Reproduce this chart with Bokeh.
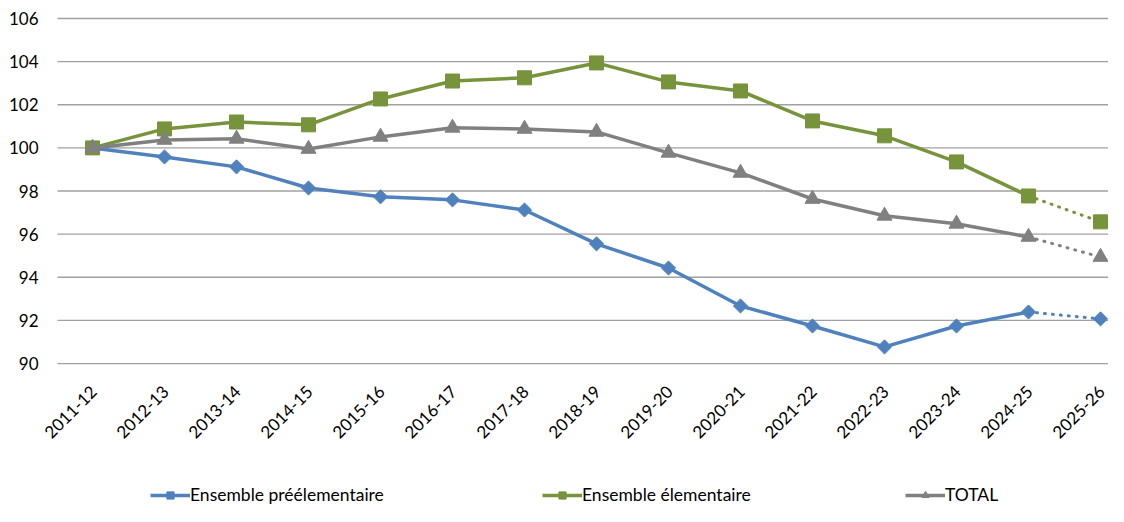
import math
from bokeh.plotting import figure
from bokeh.models import Legend, LegendItem, Range1d, LabelSet, ColumnDataSource
from bokeh.core.properties import value
from bokeh.embed import file_html
from bokeh.resources import INLINE

years = ["2011-12", "2012-13", "2013-14", "2014-15", "2015-16", "2016-17", "2017-18",
         "2018-19", "2019-20", "2020-21", "2021-22", "2022-23", "2023-24", "2024-25", "2025-26"]
preelem = [100.0, 99.58, 99.12, 98.14, 97.73, 97.59, 97.12, 95.55, 94.43, 92.67,
           91.74, 90.77, 91.74, 92.39, 92.07]
elem = [100.0, 100.88, 101.2, 101.07, 102.27, 103.1, 103.25, 103.94, 103.06, 102.64,
        101.25, 100.56, 99.35, 97.77, 96.57]
total = [100.0, 100.37, 100.42, 99.95, 100.51, 100.93, 100.88, 100.74, 99.77, 98.84,
         97.63, 96.85, 96.48, 95.87, 94.94]
y_ticks = [90, 92, 94, 96, 98, 100, 102, 104, 106]
series_names = ["Ensemble préélementaire", "Ensemble élementaire", "TOTAL"]

BLUE = "#4F81BD"
GREEN = "#77933C"
GRAY = "#808080"
FONT = "Lato"

xs = list(range(len(years)))
n_obs = len(years) - 1  # last point is a projection (dotted)

# The frame fills the whole figure: 72 px per category (first at 92px),
# 21.56 px per index point (106 at 18px). Plot area starts half a category left.
X0, X1 = -1.278, 14.111
PLOT_LEFT = -0.486
p = figure(width=1108, height=506, output_backend="svg", toolbar_location=None,
           x_range=Range1d(X0, X1), y_range=Range1d(83.37, 106.835),
           min_border_left=0, min_border_right=0, min_border_top=0, min_border_bottom=0)
p.outline_line_color = None
p.background_fill_color = "white"
p.border_fill_color = "white"

p.xaxis.visible = False
p.yaxis.visible = False
p.xgrid.grid_line_color = None
p.ygrid.grid_line_color = None

# horizontal gridlines of the plot area
p.segment(x0=[PLOT_LEFT] * len(y_ticks), x1=[X1] * len(y_ticks), y0=y_ticks, y1=y_ticks,
          line_color="#A0A0A0", line_width=1.3)

# value labels of the vertical scale
ylab_src = ColumnDataSource(dict(x=[xs[0]] * len(y_ticks), y=y_ticks,
                                 text=[str(t) for t in y_ticks]))
p.add_layout(LabelSet(x="x", y="y", text="text", source=ylab_src,
                      text_align="right", text_baseline="middle", x_offset=-54,
                      text_font=value(FONT), text_font_size=value("17px"),
                      text_color=value("#000000")))

# category labels, rotated, hanging below the 90 line
lab_src = ColumnDataSource(dict(x=xs, y=[y_ticks[0]] * len(xs), text=years))
p.add_layout(LabelSet(x="x", y="y", text="text", source=lab_src, angle=math.pi / 4,
                      text_align="right", text_baseline="middle", x_offset=1, y_offset=-25,
                      text_font=value(FONT), text_font_size=value("17px"),
                      text_color=value("#000000")))

specs = [
    (preelem, BLUE, dict(marker="square", size=10, angle=math.pi / 4)),
    (elem, GREEN, dict(marker="square", size=14)),
    (total, GRAY, dict(marker="triangle", size=15)),
]

legend_x = [150, 542, 905]
for (vals, color, mk), name, lx in zip(specs, series_names, legend_x):
    ln = p.line(xs[:n_obs], vals[:n_obs], line_color=color, line_width=3.5)
    p.line(xs[n_obs - 1:], vals[n_obs - 1:], line_color=color, line_width=3,
           line_dash="1 7", line_cap="round")
    sc = p.scatter(xs, vals, fill_color=color, line_color=color, line_width=1, **mk)
    lg = Legend(items=[LegendItem(label=name, renderers=[ln, sc])],
                location=(lx, 1), orientation="horizontal",
                glyph_width=40, glyph_height=18, label_standoff=0, padding=0,
                margin=0, border_line_color=None, background_fill_alpha=0,
                label_text_font=FONT, label_text_font_size="17.5px",
                label_text_color="#000000")
    p.add_layout(lg, "center")

open("out.html", "w").write(file_html(p, INLINE))
